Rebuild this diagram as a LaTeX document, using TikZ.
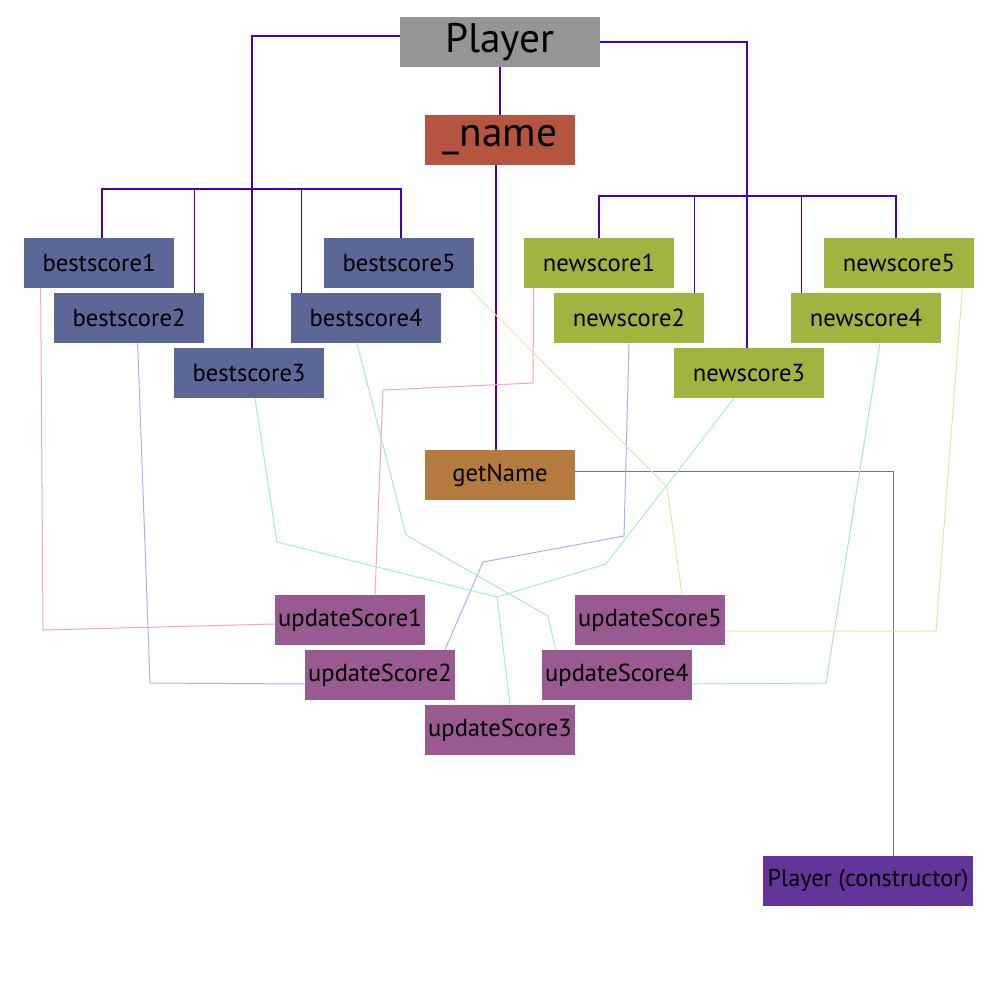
\documentclass[tikz,border=0pt]{standalone}
\usepackage{fontspec}
\setmainfont{PT Sans}
\definecolor{plgray}{HTML}{959595}
\definecolor{namered}{HTML}{B5553F}
\definecolor{bestblue}{HTML}{5A6797}
\definecolor{newgreen}{HTML}{A0B43F}
\definecolor{getbrown}{HTML}{B57A3D}
\definecolor{updpurple}{HTML}{985A8F}
\definecolor{ctorviolet}{HTML}{63349A}
\definecolor{treeline}{HTML}{4A00B0}
\definecolor{getline}{HTML}{7F62B5}
\definecolor{linkpink}{HTML}{F2A6B6}
\definecolor{linkblue}{HTML}{A8B0EE}
\definecolor{linkcyan}{HTML}{A6EADC}
\definecolor{linkgreen}{HTML}{ACE8B6}
\definecolor{linkyellow}{HTML}{EAE2AE}
\begin{document}
\begin{tikzpicture}[x=0.2mm,y=-0.2mm,
    box/.style={inner sep=0pt, minimum width=30mm, minimum height=10mm, font=\fontsize{14}{15}\selectfont},
    bigbox/.style={box, font=\fontsize{23.5}{25}\selectfont},
    tree/.style={draw=treeline, line width=0.21mm},
    link/.style={line width=0.2mm}]
    \useasboundingbox (0,0) rectangle (1000,1000);

    \node[bigbox, fill=plgray, minimum width=40mm] (player) at (500,42)  {Player};
    \node[bigbox, fill=namered]  (name)    at (500,140) {\_name};
    \node[box, fill=bestblue]    (bs1)     at (99,263)  {bestscore1};
    \node[box, fill=bestblue]    (bs2)     at (129,318) {bestscore2};
    \node[box, fill=bestblue]    (bs3)     at (249,373) {bestscore3};
    \node[box, fill=bestblue]    (bs4)     at (366,318) {bestscore4};
    \node[box, fill=bestblue]    (bs5)     at (399,263) {bestscore5};
    \node[box, fill=newgreen]    (ns1)     at (599,263) {newscore1};
    \node[box, fill=newgreen]    (ns2)     at (629,318) {newscore2};
    \node[box, fill=newgreen]    (ns3)     at (749,373) {newscore3};
    \node[box, fill=newgreen]    (ns4)     at (866,318) {newscore4};
    \node[box, fill=newgreen]    (ns5)     at (899,263) {newscore5};
    \node[box, fill=getbrown]    (getname) at (500,475) {getName};
    \node[box, fill=updpurple]   (us1)     at (350,620) {updateScore1};
    \node[box, fill=updpurple]   (us2)     at (380,675) {updateScore2};
    \node[box, fill=updpurple]   (us3)     at (500,730) {updateScore3};
    \node[box, fill=updpurple]   (us4)     at (617,675) {updateScore4};
    \node[box, fill=updpurple]   (us5)     at (650,620) {updateScore5};
    \node[box, fill=ctorviolet, minimum width=42mm, font=\fontsize{13.8}{15}\selectfont] (ctor) at (868,881) {Player (constructor)};

    \coordinate (bbus)  at (252,189);
    \coordinate (nbus)  at (747,196);
    \coordinate (join3) at (497,597);

   % tree
   \path[tree] ([yshift=1.2mm]player.west) -| ([xshift=0.6mm]bs3.north);
   \path[tree] (player.east) -| ([xshift=-0.4mm]ns3.north);
   \path[tree] (player.south) -- (name.north);
   \path[tree] ([xshift=-0.8mm]name.south) -- ([xshift=-0.8mm]getname.north);
   \path[tree] ([xshift=0.6mm]bs1.north) |- ([xshift=0.4mm]bs5.north |- bbus) -- ([xshift=0.4mm]bs5.north);
   \path[tree] ([xshift=-2mm]bs2.north east) -- ([xshift=-2mm]bs2.north east |- bbus);
   \path[tree] ([xshift=2.2mm]bs4.north west) -- ([xshift=2.2mm]bs4.north west |- bbus);
   \path[tree] (ns1.north) |- ([xshift=-0.6mm]ns5.north |- nbus) -- ([xshift=-0.6mm]ns5.north);
   \path[tree] ([xshift=-2mm]ns2.north east) -- ([xshift=-2mm]ns2.north east |- nbus);
   \path[tree] ([xshift=2.2mm]ns4.north west) -- ([xshift=2.2mm]ns4.north west |- nbus);
   \path[draw=getline, line width=0.2mm] ([yshift=0.8mm]getname.east) -| ([xshift=5mm]ctor.north);

   % score links
   \draw[link, linkpink] ([xshift=3.4mm]bs1.south west) -- (43,630) -- ([yshift=-0.8mm]us1.west);
   \draw[link, linkpink] ([xshift=2mm]ns1.south west) -- (533,383) -- (383,390) -- ([xshift=5mm]us1.north);
   \draw[link, linkblue] ([xshift=16.8mm]bs2.south west) -- (150,683) -- ([yshift=-1.8mm]us2.west);
   \draw[link, linkblue] (ns2.south) -- (624,536) -- (483,562) -- ([xshift=13mm]us2.north);
   \draw[link, linkcyan] ([xshift=1.2mm]bs3.south) -- (277,542) -- (join3) -- ([xshift=2mm]us3.north);
   \draw[link, linkcyan] ([xshift=-3mm]ns3.south) -- (606,564) -- (join3);
   \draw[link, linkgreen] ([xshift=-1.8mm]bs4.south) -- (406,535) -- (548,616) -- ([xshift=2.8mm]us4.north west);
   \draw[link, linkgreen] ([xshift=2.8mm]ns4.south) -- (826,683) -- ([yshift=-1.8mm]us4.east);
   \draw[link, linkyellow] ([xshift=-1mm]bs5.south east) -- (667,487) -- ([xshift=6.4mm]us5.north);
   \draw[link, linkyellow] ([xshift=-2.4mm]ns5.south east) -- (936,631) -- ([yshift=-2.2mm]us5.east);
  \end{tikzpicture}
\end{document}
